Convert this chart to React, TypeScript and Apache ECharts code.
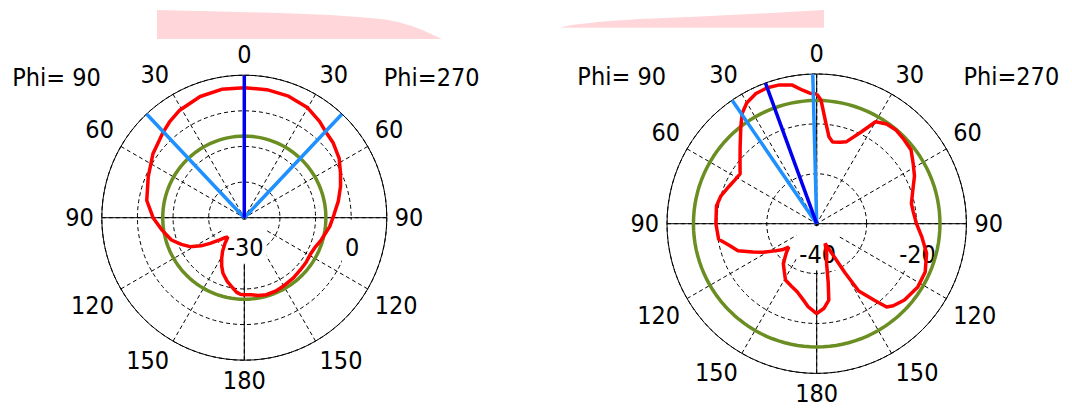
import React, { useEffect, useRef } from "react";
import * as echarts from "echarts";

const FONT = '"DejaVu Sans Condensed", "DejaVu Sans", sans-serif';

// Angle tick labels (theta, read both ways from the top)
const angleLabels = ["0", "30", "60", "90", "120", "150", "180", "150", "120", "90", "60", "30"];
const phiLabels = ["Phi= 90", "Phi=270"];

// ---------- Left pattern (dB) ----------
const leftRadiusRange = [-30, 10];
const leftRingLabels = [-30, 0];
const leftPhi270Theta = [0, 10, 20, 30, 38, 43, 50, 58, 65, 72, 80, 88, 96, 106, 112, 119, 126, 133, 141, 150, 157, 164, 170, 175, 180];
const leftPhi270Gain = [6.5, 6.5, 6.3, 5.6, 4.3, 3.3, 2.6, 1.4, -0.2, -1.6, -3.2, -4.8, -5.9, -7.5, -8.4, -8.8, -8.6, -8.5, -8.2, -7.9, -7.6, -7.5, -7.8, -8.3, -8.4];
const leftPhi90Theta = [0, 10, 20, 31, 38, 44, 55, 67, 80, 90, 98, 107, 113, 118, 123, 127, 132, 136, 139, 141, 143, 147, 151, 155, 159, 165, 170, 174, 177, 180];
const leftPhi90Gain = [6.5, 6.6, 6.2, 5.2, 4.1, 3.0, 1.3, -0.7, -2.2, -4.4, -6.5, -8.6, -10.8, -12.7, -15.5, -18.0, -20.7, -22.2, -22.9, -22.3, -21.0, -18.8, -16.9, -15.0, -13.3, -11.5, -10.2, -9.0, -8.5, -8.4];
const leftMainLobe = [0]; // signed theta: negative = Phi=90 side
const leftHalfPower = [-43.3, 43.3];
const leftSideLobeLevel = -7.1;

// ---------- Right pattern (dB) ----------
const rightRadiusRange = [-40, -10];
const rightRingLabels = [-40, -20];
const rightPhi270Theta = [0, 2, 5, 8, 11, 16, 20, 26, 30, 35, 40, 46, 52, 58, 64, 72, 78, 83, 90, 97, 105, 114, 122, 131, 137, 140, 143, 148, 150, 153, 157, 162, 166, 169, 171, 175, 180];
const rightPhi270Gain = [-14.0, -15.2, -19.5, -22.4, -23.3, -23.0, -22.5, -19.5, -16.4, -15.6, -15.4, -15.7, -16.0, -17.2, -18.2, -19.8, -20.6, -20.5, -20.0, -18.8, -17.2, -16.2, -16.1, -16.7, -17.5, -18.2, -20.8, -24.1, -28.6, -33.4, -35.7, -33.5, -31.8, -27.9, -24.5, -23.0, -22.0];
const rightPhi90Theta = [0, 3, 6, 10, 15, 20, 25, 30, 34, 38, 45, 52, 57, 62, 67, 74, 80, 90, 99, 104, 109, 114, 118, 123, 127, 130, 134, 140, 146, 151, 158, 164, 170, 174, 180];
const rightPhi90Gain = [-14.0, -13.8, -13.1, -11.8, -11.2, -11.0, -11.2, -12.0, -13.3, -15.3, -18.3, -20.5, -21.7, -21.4, -20.9, -20.0, -19.6, -19.8, -20.1, -22.0, -23.3, -26.0, -27.8, -30.0, -31.3, -32.7, -31.5, -29.6, -28.4, -27.1, -26.5, -25.8, -24.5, -23.3, -22.0];
const rightMainLobe = [-20];
const rightHalfPower = [-34.4, -1.5];
const rightSideLobeLevel = -15.3;

const plots = [
  {
    range: leftRadiusRange, rings: leftRingLabels,
    t270: leftPhi270Theta, g270: leftPhi270Gain, t90: leftPhi90Theta, g90: leftPhi90Gain,
    main: leftMainLobe, hp: leftHalfPower, sll: leftSideLobeLevel,
    center: [244.3, 217.7], radius: 142.5, labelDy: 2,
  },
  {
    range: rightRadiusRange, rings: rightRingLabels,
    t270: rightPhi270Theta, g270: rightPhi270Gain, t90: rightPhi90Theta, g90: rightPhi90Gain,
    main: rightMainLobe, hp: rightHalfPower, sll: rightSideLobeLevel,
    center: [816.7, 223.7], radius: 149.7, labelDy: 2.5,
  },
];

const toAngle = (t: number) => (t < 0 ? 360 + t : t);

function buildOption() {
  const polar: any[] = [];
  const angleAxis: any[] = [];
  const radiusAxis: any[] = [];
  const series: any[] = [];
  plots.forEach((p, i) => {
    const [mn, mx] = p.range;
    polar.push({ center: p.center, radius: p.radius });
    angleAxis.push({
      polarIndex: i, type: "value", min: 0, max: 360, interval: 30, startAngle: 90, clockwise: true,
      axisLine: { lineStyle: { color: "#000", width: 1 } },
      axisTick: { show: false },
      axisLabel: {
        margin: 8, color: "#000", fontSize: 25, fontFamily: FONT,
        formatter: (v: number) => angleLabels[Math.round(v / 30) % 12],
      },
      splitLine: { show: true, lineStyle: { color: "#000", width: 1, type: [4, 3] } },
    });
    radiusAxis.push({
      polarIndex: i, type: "value", min: mn, max: mx, interval: 10,
      axisLine: { show: false }, axisTick: { show: false }, axisLabel: { show: false },
      splitLine: { show: true, lineStyle: { color: "#000", width: 1, type: [4, 3] } },
    });
    const base = { type: "line", coordinateSystem: "polar", polarIndex: i, symbol: "none", silent: true, animation: false };
    series.push({ ...base, z: 1, data: [[mx, 0], [mn, 0], [mx, 180]], lineStyle: { color: "#000", width: 1 } });
    series.push({ ...base, z: 1, data: [[mx, 90], [mn, 90], [mx, 270]], lineStyle: { color: "#000", width: 1 } });
    const circle: number[][] = [];
    for (let a = 0; a <= 360; a += 3) circle.push([p.sll, a]);
    series.push({ ...base, z: 3, data: circle, lineStyle: { color: "#6B8E23", width: 3.5 } });
    const curve: number[][] = [];
    p.t270.forEach((t, k) => curve.push([p.g270[k], t]));
    for (let k = p.t90.length - 1; k >= 0; k--) curve.push([p.g90[k], 360 - p.t90[k]]);
    series.push({ ...base, z: 4, data: curve, lineStyle: { color: "#FF0000", width: 3.5 } });
    p.hp.forEach((t) => {
      series.push({ ...base, z: 5, data: [[mn, toAngle(t)], [mx, toAngle(t)]], lineStyle: { color: "#1E90FF", width: 3.5 } });
    });
    p.main.forEach((t) => {
      series.push({ ...base, z: 6, data: [[mn, toAngle(t)], [mx, toAngle(t)]], lineStyle: { color: "#0000EE", width: 3.5 } });
    });
  });
  return { animation: false, backgroundColor: "#fff", polar, angleAxis, radiusAxis, series };
}

export default function App() {
  const ref = useRef<HTMLDivElement>(null);
  useEffect(() => {
    const chart = echarts.init(ref.current!, null, { renderer: "svg" });
    chart.setOption(buildOption());
    const graphic: any[] = [
      {
        type: "polygon", z: 0, silent: true,
        shape: { points: [[157, 10], [220, 11.5], [280, 13], [330, 15], [365, 17.5], [385, 19.5], [398, 22], [410, 25.5], [420, 29], [430, 33.5], [442, 39], [157, 39]] },
        style: { fill: "#FFD6DA" },
      },
      {
        type: "polygon", z: 0, silent: true,
        shape: { points: [[560, 27.7], [565, 26.5], [572, 25], [585, 23.5], [603, 21.5], [640, 19], [700, 16.5], [760, 13.5], [824, 10], [824, 27.7]] },
        style: { fill: "#FFD6DA" },
      },
    ];
    plots.forEach((p, i) => {
      p.rings.forEach((v) => {
        let pt: any = null;
        try { pt = chart.convertToPixel({ polarIndex: i } as any, [v, 90]); } catch (e) { pt = null; }
        if (!pt) {
          const r = ((v - p.range[0]) / (p.range[1] - p.range[0])) * p.radius;
          pt = [p.center[0] + r, p.center[1]];
        }
        graphic.push({
          type: "text", z: 2, silent: true, x: pt[0] + 1, y: pt[1] + p.labelDy,
          style: {
            text: String(v), fill: "#000", font: `25px ${FONT}`,
            align: "center", textAlign: "center", verticalAlign: "top", textVerticalAlign: "top",
            backgroundColor: "#fff", padding: [14, 3, 2, 3], lineHeight: 28,
          },
        });
      });
      const [cx, cy] = p.center;
      graphic.push({
        type: "text", z: 2, silent: true, x: cx - p.radius - 1, y: cy - p.radius + 2,
        style: { text: phiLabels[0], fill: "#000", font: `25px ${FONT}`, align: "right", textAlign: "right", verticalAlign: "middle", textVerticalAlign: "middle" },
      });
      graphic.push({
        type: "text", z: 2, silent: true, x: cx + p.radius - 3, y: cy - p.radius + 2,
        style: { text: phiLabels[1], fill: "#000", font: `25px ${FONT}`, align: "left", textAlign: "left", verticalAlign: "middle", textVerticalAlign: "middle" },
      });
    });
    chart.setOption({ graphic });
    return () => chart.dispose();
  }, []);
  return <div ref={ref} style={{ position: "fixed", left: 0, top: 0, width: "1072px", height: "409px" }} />;
}
